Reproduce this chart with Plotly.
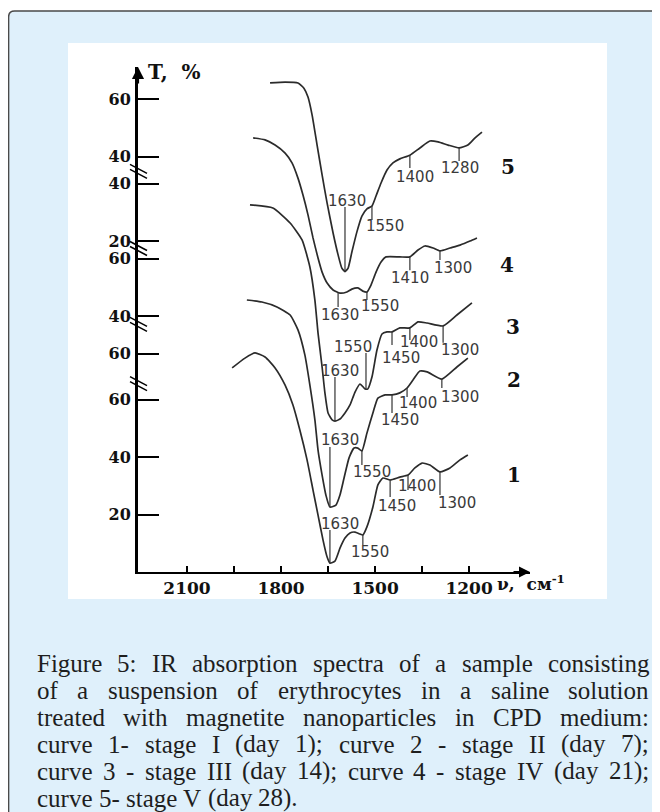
import numpy as np
import plotly.graph_objects as go

# ---------------- data ----------------
# wavenumber (cm^-1) and transmittance T (%) for each curve
c1_v = [1956, 1915, 1883, 1851, 1819, 1787, 1762, 1740, 1717, 1698, 1682, 1666, 1653, 1644, 1628,
        1612, 1596, 1580, 1564, 1548, 1539, 1526, 1507, 1491, 1475, 1452, 1421, 1395, 1373, 1350,
        1325, 1293, 1261, 1229, 1204]
c1_t = [71.0, 74.4, 76.2, 74.8, 71.0, 65.0, 58.1, 49.4, 39.0, 28.5, 19.8, 11.1, 5.2, 3.1, 3.8,
        8.3, 11.8, 13.6, 13.9, 13.2, 12.9, 15.7, 22.6, 30.3, 32.7, 32.0, 33.0, 33.7, 36.2, 37.9,
        37.2, 34.8, 36.2, 39.0, 40.7]

c2_v = [1909, 1861, 1813, 1771, 1746, 1724, 1708, 1692, 1682, 1669, 1657, 1644, 1625, 1612, 1599,
        1583, 1567, 1555, 1542, 1526, 1507, 1491, 1468, 1446, 1421, 1398, 1379, 1357, 1334, 1287,
        1239, 1204]
c2_t = [78.6, 77.9, 76.2, 73.4, 68.2, 59.5, 49.0, 36.9, 26.4, 17.7, 10.8, 6.6, 7.3, 10.8, 16.7,
        23.7, 27.1, 27.1, 26.1, 32.3, 39.3, 44.5, 45.6, 45.6, 46.3, 48.0, 50.8, 53.9, 53.6, 51.1,
        55.3, 58.4]

c3_v = [1899, 1826, 1771, 1733, 1708, 1692, 1682, 1669, 1660, 1650, 1637, 1628, 1612, 1596, 1580,
        1564, 1548, 1532, 1523, 1510, 1494, 1478, 1462, 1446, 1421, 1389, 1363, 1334, 1283, 1239,
        1191]
c3_t = [78.7, 77.6, 72.4, 66.5, 57.1, 45.6, 34.1, 22.3, 13.3, 6.3, 3.9, 3.5, 4.2, 6.3, 9.1,
        13.6, 16.4, 14.7, 14.7, 18.8, 28.2, 33.8, 34.5, 34.5, 35.9, 35.9, 38.0, 37.6, 36.6, 40.4,
        44.6]

c4_v = [1889, 1851, 1819, 1787, 1765, 1746, 1730, 1714, 1698, 1682, 1669, 1653, 1634, 1612, 1590,
        1574, 1555, 1539, 1526, 1513, 1497, 1481, 1465, 1421, 1389, 1363, 1341, 1315, 1293, 1261,
        1229, 1197, 1175]
c4_t = [56.0, 55.3, 53.5, 50.7, 47.3, 42.0, 36.1, 29.2, 21.2, 14.2, 9.3, 5.5, 3.1, 2.0, 2.4,
        3.4, 3.8, 2.7, 2.4, 4.8, 9.3, 12.8, 14.6, 14.6, 14.6, 17.0, 18.4, 17.7, 16.7, 17.7,
        18.7, 20.1, 21.2]

c5_v = [1835, 1787, 1746, 1727, 1714, 1701, 1685, 1669, 1653, 1634, 1618, 1606, 1596, 1586, 1574,
        1558, 1542, 1526, 1510, 1497, 1481, 1462, 1443, 1421, 1389, 1357, 1325, 1299, 1267, 1232,
        1204, 1181, 1159]
c5_t = [65.6, 65.9, 65.6, 63.8, 60.7, 54.5, 44.0, 33.6, 23.8, 13.4, 5.8, 1.2, 0.0, 1.2, 6.8,
        13.8, 19.3, 21.8, 22.8, 26.3, 30.8, 35.3, 37.8, 39.2, 40.5, 43.0, 45.4, 45.1, 44.0, 43.0,
        44.0, 46.5, 48.5]

curve_names = ["1", "2", "3", "4", "5"]

# labelled bands on each curve: (label, wavenumber)
peaks_1 = [("1630", 1644), ("1550", 1539), ("1450", 1452), ("1400", 1395), ("1300", 1293)]
peaks_2 = [("1630", 1644), ("1550", 1542), ("1450", 1446), ("1400", 1398), ("1300", 1287)]
peaks_3 = [("1630", 1628), ("1550", 1529), ("1450", 1446), ("1400", 1389), ("1300", 1283)]
peaks_4 = [("1630", 1618), ("1550", 1526), ("1410", 1389), ("1300", 1293)]
peaks_5 = [("1630", 1596), ("1550", 1510), ("1400", 1389), ("1280", 1232)]

# y tick labels of each curve's own T scale
yticks_1 = [60, 40, 20]
yticks_2 = [60]
yticks_3 = [60, 40]
yticks_4 = [40, 20]
yticks_5 = [60, 40]

# x axis ticks
x_tick_vals = [2100, 1950, 1800, 1650, 1500, 1350, 1200]
x_tick_text = ["2100", "", "1800", "", "1500", "", "1200"]

caption_lines = [
    "Figure 5: IR absorption spectra of a sample consisting",
    "of a suspension of erythrocytes in a saline solution",
    "treated with magnetite nanoparticles in CPD medium:",
    "curve 1- stage I (day 1); curve 2 - stage II (day 7);",
    "curve 3 - stage III (day 14); curve 4 - stage IV (day 21);",
    "curve 5- stage V (day 28).",
]

# ---------------- layout constants ----------------
W, H = 660, 812
PAGE = 8                                  # page body margin: page px = figure px + 8
ML, MT = 138 - PAGE, 67 - PAGE            # plot area in figure px
PW, PH = 392, 505
MR, MB = W - ML - PW, H - MT - PH
X_RANGE = [2256.3, 1005.8]
Y_RANGE = [0, PH / 2.875]
OFFSETS = [0, 16, 49, 95, 104.5]          # vertical stacking of the curves
BREAKS = [65.0, 85.6, 112.0, 138.8]      # axis break marks (stacked units)

# tick end (curve units), label centre offset from tick end (dx, dy) in px
peak_layout = [
    [(14.6, 10, -6), (9.4, 7, 7), (26.1, 7, 9), (28.5, 9, -4), (26.8, 17, 8)],
    [(27.5, 10, -7), (21.2, 10, 7), (39.3, 8, 7), (44.9, 11, 6), (48.0, 18, 9)],
    [(18.8, 5, -6), (27.2, -13, -6), (30.0, 9, 13), (31.7, 9, 2), (30.7, 17, 7)],
    [(-2.8, 2, 8), (-0.4, 13, 6), (10.0, 0, 8), (13.5, 13, 8)],
    [(22.5, 2, -6), (17.9, 13, 6), (36.0, 5, 9), (38.5, 1, 7)],
]
name_pos = [(1056, 33.7), (1056, 50.8), (1060, 36.2), (1079, 11.8), (1076, 36.4)]

curves = [(c1_v, c1_t), (c2_v, c2_t), (c3_v, c3_t), (c4_v, c4_t), (c5_v, c5_t)]
peaks = [peaks_1, peaks_2, peaks_3, peaks_4, peaks_5]
yticks = [yticks_1, yticks_2, yticks_3, yticks_4, yticks_5]


def px(x):   # page pixel -> paper
    return (x - PAGE - ML) / PW


def py(y):
    return (MT + PH - (y - PAGE)) / PH


LINE_C = "#2b2b2b"
SERIF_B = dict(family="DejaVu Serif", color="#111111", weight="bold")

fig = go.Figure()

# ---- background: light-blue rounded box and white chart panel
r = 6
path = (f"M {px(8.6)},{py(840)} L {px(8.6)},{py(11 + r)} Q {px(8.6)},{py(11)} {px(8.6 + r)},{py(11)} "
        f"L {px(700)},{py(11)} L {px(700)},{py(840)} Z")
fig.add_shape(type="path", path=path, xref="paper", yref="paper", layer="below",
              fillcolor="#dff0fb", line=dict(color="#4a4a4a", width=1.5))
fig.add_shape(type="rect", xref="paper", yref="paper", layer="below",
              x0=px(68), x1=px(607), y0=py(599), y1=py(43),
              fillcolor="white", line=dict(width=0))

# ---- curves
for i, (v, t) in enumerate(curves):
    fig.add_trace(go.Scatter(
        x=v, y=[ti + OFFSETS[i] for ti in t], mode="lines",
        line=dict(color=LINE_C, width=1.7, shape="spline", smoothing=0.5),
        hoverinfo="skip", showlegend=False))

# ---- band marks and labels
for i, plist in enumerate(peaks):
    va = np.array(curves[i][0], dtype=float)[::-1]
    ta = np.array(curves[i][1], dtype=float)[::-1]
    off = OFFSETS[i]
    for (txt, pv), (tend, dx, dy) in zip(plist, peak_layout[i]):
        tc = float(np.interp(pv, va, ta))
        fig.add_shape(type="line", xref="x", yref="y", x0=pv, x1=pv,
                      y0=tc + off, y1=tend + off, line=dict(color="#333333", width=1.2))
        fig.add_annotation(x=pv, y=tend + off, xref="x", yref="y", text=txt, showarrow=False,
                           xshift=dx, yshift=-dy, xanchor="center", yanchor="middle",
                           borderpad=0,
                           font=dict(family="DejaVu Sans", size=15, color="#3a3a3a"))

# ---- curve numbers
for i, name in enumerate(curve_names):
    nv, nt = name_pos[i]
    fig.add_annotation(x=nv, y=nt + OFFSETS[i], xref="x", yref="y", text=name,
                       showarrow=False, font=dict(size=20, **SERIF_B))

# ---- y ticks (stacked scales)
tv, tt = [], []
for i, ticks in enumerate(yticks):
    for val in ticks:
        tv.append(val + OFFSETS[i])
        tt.append(str(val))

# ---- axis break marks
for d in BREAKS:
    ypx = 572 - d * 2.875
    for k in (-2.5, 2.5):
        fig.add_shape(type="line", xref="paper", yref="paper",
                      x0=px(130), y0=py(ypx - 6 + k), x1=px(147), y1=py(ypx + 3 + k),
                      line=dict(color="black", width=1.5))

# ---- axis arrows and axis titles
fig.add_annotation(x=0, y=1, xref="paper", yref="paper", ax=0, ay=18, text="",
                   showarrow=True, arrowhead=2, arrowsize=1.1, arrowwidth=2.2,
                   arrowcolor="black", standoff=0)
fig.add_annotation(x=1, y=0, xref="paper", yref="paper", ax=-18, ay=0, text="",
                   showarrow=True, arrowhead=2, arrowsize=1.1, arrowwidth=2,
                   arrowcolor="black", standoff=0)
fig.add_annotation(x=px(146), y=py(72), xref="paper", yref="paper", text="T,  %",
                   showarrow=False, xanchor="left", yanchor="middle",
                   font=dict(size=20, **SERIF_B))
fig.add_annotation(x=px(495), y=py(583), xref="paper", yref="paper",
                   text="ν,  см<sup>-1</sup>", showarrow=False, xanchor="left",
                   yanchor="middle", font=dict(size=17, **SERIF_B))

# ---- caption (justified, Times-metric widths)
TW = {' ': 250, '!': 333, '(': 333, ')': 333, '-': 333, '.': 250, ',': 250, ':': 278, ';': 278,
      'A': 722, 'B': 667, 'C': 667, 'D': 722, 'E': 611, 'F': 556, 'G': 722, 'H': 722, 'I': 333,
      'J': 389, 'K': 722, 'L': 611, 'M': 889, 'N': 722, 'O': 722, 'P': 556, 'Q': 722, 'R': 667,
      'S': 556, 'T': 611, 'U': 722, 'V': 722, 'W': 944, 'X': 722, 'Y': 722, 'Z': 611,
      'a': 444, 'b': 500, 'c': 444, 'd': 500, 'e': 444, 'f': 333, 'g': 500, 'h': 500, 'i': 278,
      'j': 278, 'k': 500, 'l': 278, 'm': 778, 'n': 500, 'o': 500, 'p': 500, 'q': 500, 'r': 333,
      's': 389, 't': 278, 'u': 500, 'v': 500, 'w': 722, 'x': 500, 'y': 500, 'z': 444}
CAP_SIZE = 25
CAP_L, CAP_R = 36, 648
CAP_Y0, CAP_DY = 663, 27


def tw(s):
    return sum(TW.get(ch, 500) for ch in s) / 1000.0 * CAP_SIZE


for li, line in enumerate(caption_lines):
    words = line.split(" ")
    widths = [tw(w_) for w_ in words]
    if li < len(caption_lines) - 1 and len(words) > 1:
        gap = (CAP_R - CAP_L - sum(widths)) / (len(words) - 1)
    else:
        gap = tw(" ")
    x = CAP_L
    yy = CAP_Y0 + li * CAP_DY
    for w_, wd in zip(words, widths):
        fig.add_annotation(x=px(x), y=py(yy), xref="paper", yref="paper", text=w_,
                           showarrow=False, xanchor="left", yanchor="middle", borderpad=0,
                           font=dict(family="Liberation Serif", size=CAP_SIZE, color="#1e1e1e"))
        x += wd + gap

fig.update_layout(
    width=W, height=H,
    margin=dict(l=ML, r=MR, t=MT, b=MB),
    paper_bgcolor="white", plot_bgcolor="rgba(0,0,0,0)",
    showlegend=False,
    xaxis=dict(range=X_RANGE, showline=True, linecolor="black", linewidth=2,
               ticks="inside", ticklen=6, tickwidth=1.5, tickcolor="black",
               tickvals=x_tick_vals, ticktext=x_tick_text,
               tickfont=dict(size=17, **SERIF_B), showgrid=False, zeroline=False),
    yaxis=dict(range=Y_RANGE, showline=True, linecolor="black", linewidth=3,
               ticks="inside", ticklen=21, tickwidth=1.5, tickcolor="black",
               tickvals=tv, ticktext=tt, ticklabelstandoff=1,
               tickfont=dict(size=16, **SERIF_B), showgrid=False, zeroline=False),
)

fig.write_html("out.html")
